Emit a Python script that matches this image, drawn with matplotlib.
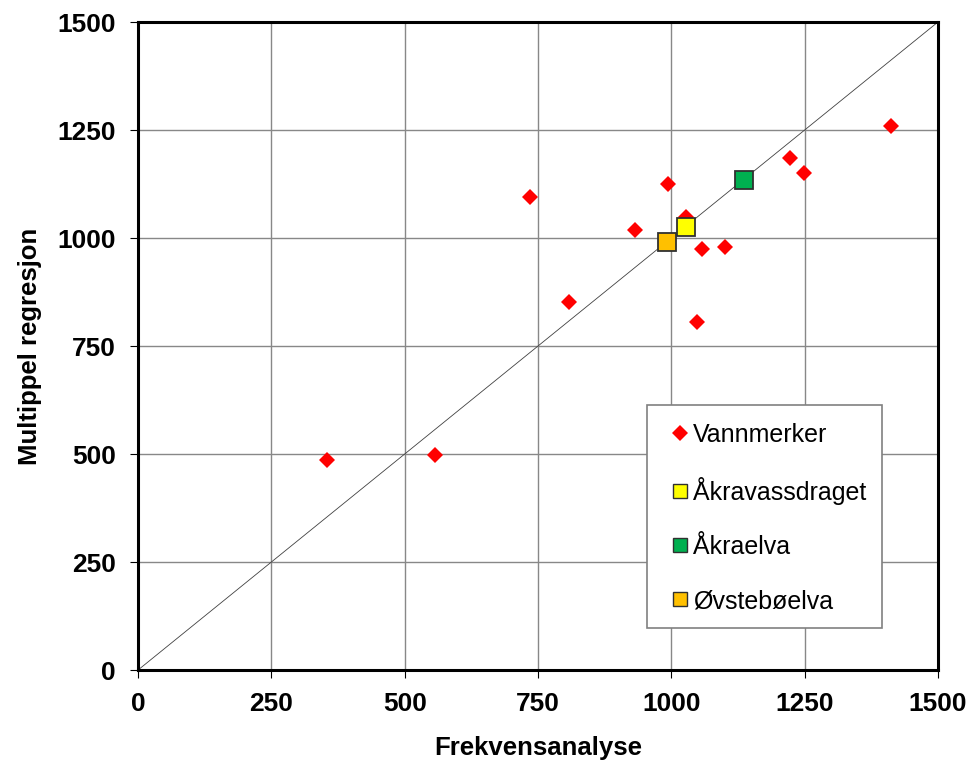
import matplotlib.pyplot as plt
from matplotlib.lines import Line2D
from matplotlib.patches import Rectangle

plt.rcParams['font.family'] = ['Liberation Sans', 'DejaVu Sans']

# Vannmerker (frekvensanalyse, multippel regresjon)
vm_x = [1412, 1222, 1248, 735, 993, 1027, 931, 1057, 1101, 808, 1048, 354, 557]
vm_y = [1259, 1186, 1150, 1095, 1126, 1048, 1019, 975, 979, 851, 806, 486, 498]

# enkeltvassdrag
navn = ['Åkravassdraget', 'Åkraelva', 'Øvstebøelva']
punkt_x = [1027, 1137, 992]
punkt_y = [1025, 1134, 991]
farger = ['#FFFF00', '#00B050', '#FFC000']

ticks = [0, 250, 500, 750, 1000, 1250, 1500]

fig = plt.figure(figsize=(9.7, 7.64), dpi=100)
ax = fig.add_axes([0.1423, 0.123, 0.8247, 0.8482])

# 1:1 linje
ax.plot([0, 1500], [0, 1500], color='#404040', linewidth=0.6, zorder=2)

ax.plot(vm_x, vm_y, linestyle='none', marker='D', markersize=8,
        color='#FF0000', markeredgewidth=0, zorder=3)
for x, y, c in zip(punkt_x, punkt_y, farger):
    ax.plot([x], [y], linestyle='none', marker='s', markersize=12.5,
            markerfacecolor=c, markeredgecolor='#303030', markeredgewidth=1.3, zorder=4)

ax.set_xlim(0, 1500)
ax.set_ylim(0, 1500)
ax.set_xticks(ticks)
ax.set_yticks(ticks)
ax.grid(True, color='#888888', linewidth=1.0)
ax.set_axisbelow(True)
for s in ax.spines.values():
    s.set_linewidth(2.2)
ax.tick_params(direction='out', length=6, width=0.8, pad=10, labelsize=19)
for lbl in ax.get_xticklabels() + ax.get_yticklabels():
    lbl.set_fontweight('bold')

ax.set_xlabel('Frekvensanalyse', fontsize=18.5, fontweight='bold', labelpad=14)
ax.set_ylabel('Multippel regresjon', fontsize=18.5, fontweight='bold', labelpad=11)

# legend
ax.add_patch(Rectangle((0.636, 0.0656), 0.294, 0.344, transform=ax.transAxes,
                       facecolor='white', edgecolor='#808080', linewidth=1.2, zorder=5))
handles = [Line2D([], [], linestyle='none', marker='D', markersize=8.5,
                  color='#FF0000', markeredgewidth=0)]
for c in farger:
    handles.append(Line2D([], [], linestyle='none', marker='s', markersize=10,
                          markerfacecolor=c, markeredgecolor='#303030', markeredgewidth=1.0))
leg = ax.legend(handles, ['Vannmerker'] + navn, loc='upper left',
                bbox_to_anchor=(0.666, 0.381), frameon=False, fontsize=18,
                borderpad=0, borderaxespad=0, handlelength=0.7, handletextpad=0.2,
                labelspacing=1.2)
leg.set_zorder(6)

fig.savefig('out.png', dpi=100)
